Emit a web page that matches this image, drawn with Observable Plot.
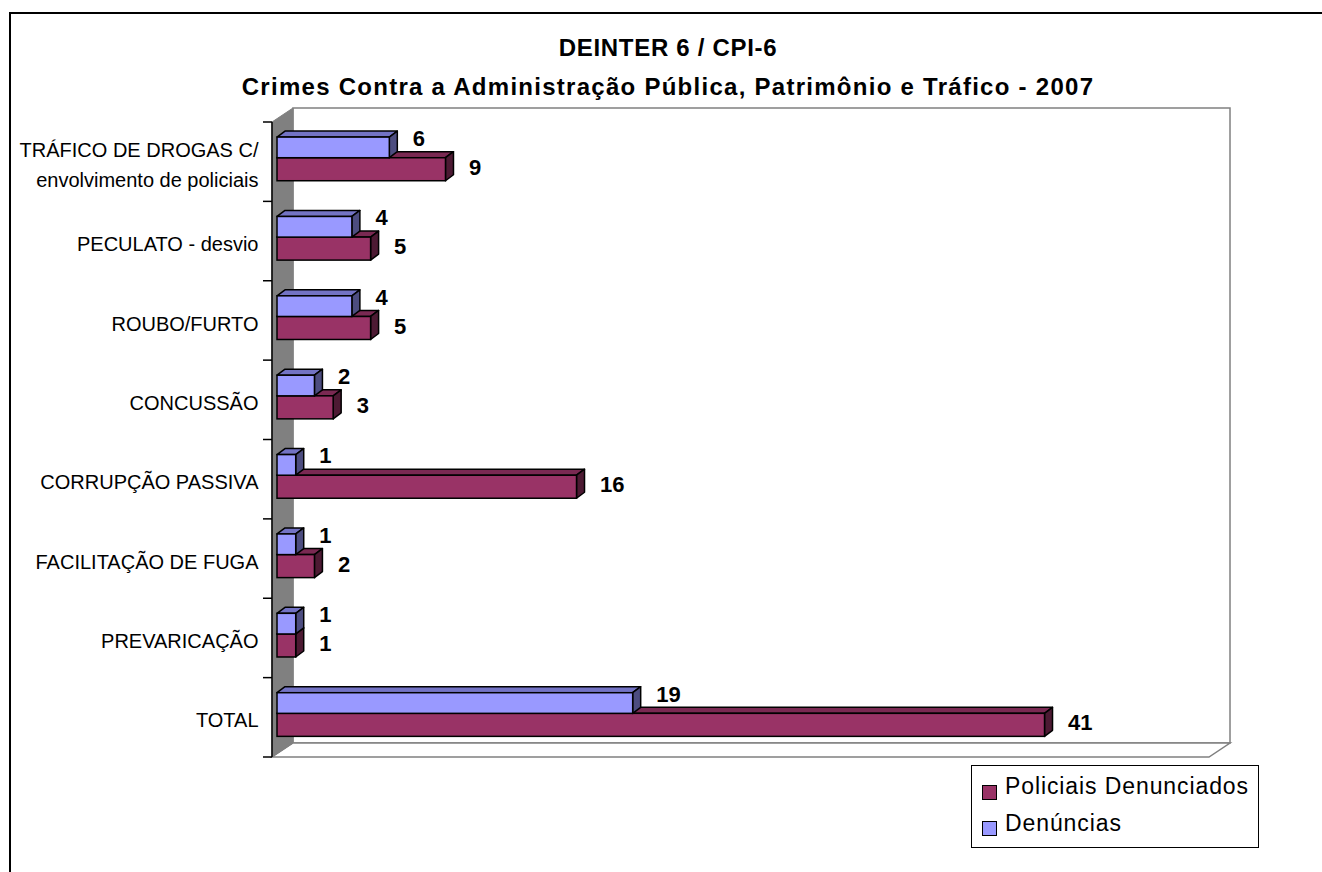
<!DOCTYPE html>
<html><head><meta charset="utf-8">
<script src="https://cdn.jsdelivr.net/npm/d3@7"></script>
<script src="https://cdn.jsdelivr.net/npm/@observablehq/plot@0.6"></script>
<style>
body{margin:0;background:#fff;font-family:"Liberation Sans",Arial,sans-serif;}
#wrap{position:relative;width:1322px;height:872px;overflow:hidden;background:#fff;}
#frame{position:absolute;left:9px;top:12px;width:1400px;height:900px;border-top:2px solid #000;border-left:2px solid #000;}
#chart{position:absolute;left:0;top:0;}
.title{position:absolute;left:0;width:1336px;text-align:center;font-weight:bold;font-size:24px;line-height:26px;color:#000;white-space:nowrap;}
#legend{position:absolute;left:971px;top:765px;width:286px;height:81px;border:1px solid #000;background:#fff;}
.sw{position:absolute;left:10px;width:13px;height:13px;border:1.5px solid #000;}
.lt{position:absolute;left:33px;font-size:23px;line-height:24px;letter-spacing:0.9px;color:#000;white-space:nowrap;}
</style></head><body>
<div id="wrap">
  <div id="frame"></div>
  <div id="chart"></div>
  <div class="title" style="top:35px;letter-spacing:0.7px">DEINTER 6 / CPI-6</div>
  <div class="title" style="top:74px;letter-spacing:1.27px">Crimes Contra a Administração Pública, Patrimônio e Tráfico - 2007</div>
  <div id="legend"></div>
</div>
<script>
// ---- data ----
const categories = [
  "TRÁFICO DE DROGAS C/\nenvolvimento de policiais",
  "PECULATO - desvio",
  "ROUBO/FURTO",
  "CONCUSSÃO",
  "CORRUPÇÃO PASSIVA",
  "FACILITAÇÃO DE FUGA",
  "PREVARICAÇÃO",
  "TOTAL"
];
const denuncias = [6, 4, 4, 2, 1, 1, 1, 19];
const policiais = [9, 5, 5, 3, 16, 2, 1, 41];
const seriesNames = ["Policiais Denunciados", "Denúncias"];
const seriesColors = ["#993366", "#9999FF"];

// ---- layout constants ----
const DX = 8, DY = -6;      // bar depth (px)
const WDX = 21, WDY = -14;  // wall depth (px)

const rows = categories.map((c, i) => ({c, i}));
const blue = categories.map((c, i) => ({i, v: denuncias[i], y1: i + 0.19, y2: i + 0.45}));
const mag = categories.map((c, i) => ({i, v: policiais[i], y1: i + 0.45, y2: i + 0.74}));

function walls(index, scales) {
  const x = scales.x, y = scales.y;
  const xl = x(0) - 5, xr = x(50) - 4, yt = y(0), yb = y(8);
  const g = d3.create("svg:g");
  g.append("rect").attr("x", xl + WDX).attr("y", yt + WDY).attr("width", xr - xl).attr("height", yb - yt)
    .attr("fill", "#fff").attr("stroke", "#808080").attr("stroke-width", 1.5);
  g.append("path").attr("d", `M${xl},${yb}L${xr},${yb}L${xr + WDX},${yb + WDY}L${xl + WDX},${yb + WDY}Z`)
    .attr("fill", "#fff").attr("stroke", "#808080").attr("stroke-width", 1.5);
  g.append("path").attr("d", `M${xl},${yt}L${xl + WDX},${yt + WDY}L${xl + WDX},${yb + WDY}L${xl},${yb}Z`)
    .attr("fill", "#808080").attr("stroke", "#808080").attr("stroke-width", 1);
  g.append("line").attr("x1", xl).attr("x2", xl).attr("y1", yt).attr("y2", yb)
    .attr("stroke", "#000").attr("stroke-width", 1.5);
  for (let k = 0; k <= categories.length; ++k) {
    g.append("line").attr("x1", xl - 9).attr("x2", xl).attr("y1", y(k)).attr("y2", y(k))
      .attr("stroke", "#000").attr("stroke-width", 1.5);
  }
  return g.node();
}

function faces(data, topFill, sideFill) {
  return (index, scales) => {
    const x = scales.x, y = scales.y;
    const g = d3.create("svg:g").attr("stroke", "#000").attr("stroke-width", 1.5).attr("stroke-linejoin", "round");
    for (const d of data) {
      const x0 = x(0), x1 = x(d.v), yt = y(d.y1), yb = y(d.y2);
      g.append("path").attr("d", `M${x0},${yt}L${x0 + DX},${yt + DY}L${x1 + DX},${yt + DY}L${x1},${yt}Z`).attr("fill", topFill);
      g.append("path").attr("d", `M${x1},${yt}L${x1 + DX},${yt + DY}L${x1 + DX},${yb + DY}L${x1},${yb}Z`).attr("fill", sideFill);
    }
    return g.node();
  };
}

const labelStyle = {textAnchor: "start", fontWeight: "bold", fontSize: 22, dx: 23, fill: "#000"};

const chart = Plot.plot({
  width: 1322,
  height: 872,
  marginLeft: 277,
  marginRight: 109,
  marginTop: 122,
  marginBottom: 115,
  x: {domain: [0, 50], axis: null},
  y: {domain: [0, categories.length], range: [122, 757], axis: null},
  style: {background: "transparent", fontFamily: "Liberation Sans, Arial, sans-serif", overflow: "visible"},
  marks: [
    walls,
    faces(mag, "#7a2952", "#4d1a33"),
    Plot.rect(mag, {x1: 0, x2: "v", y1: "y1", y2: "y2", fill: seriesColors[0], stroke: "#000", strokeWidth: 1.5}),
    faces(blue, "#7373c4", "#4d4d80"),
    Plot.rect(blue, {x1: 0, x2: "v", y1: "y1", y2: "y2", fill: seriesColors[1], stroke: "#000", strokeWidth: 1.5}),
    Plot.text(mag, {x: "v", y: d => (d.y1 + d.y2) / 2, text: d => String(d.v), dy: -2, ...labelStyle}),
    Plot.text(blue, {x: "v", y: d => (d.y1 + d.y2) / 2, text: d => String(d.v), dy: -9, ...labelStyle}),
    Plot.text(rows, {x: 0, y: d => d.i + 0.5, text: "c", textAnchor: "end", dx: -19, fontSize: 20, lineHeight: 1.5, fill: "#000"})
  ]
});
document.getElementById("chart").appendChild(chart);

// legend
const legend = document.getElementById("legend");
seriesNames.forEach((name, k) => {
  const top = k === 0 ? 19 : 55;
  const sw = document.createElement("div");
  sw.className = "sw";
  sw.style.top = top + "px";
  sw.style.background = seriesColors[k];
  legend.appendChild(sw);
  const t = document.createElement("div");
  t.className = "lt";
  t.style.top = (k === 0 ? 8 : 45) + "px";
  t.textContent = name;
  legend.appendChild(t);
});
</script>
</body></html>
